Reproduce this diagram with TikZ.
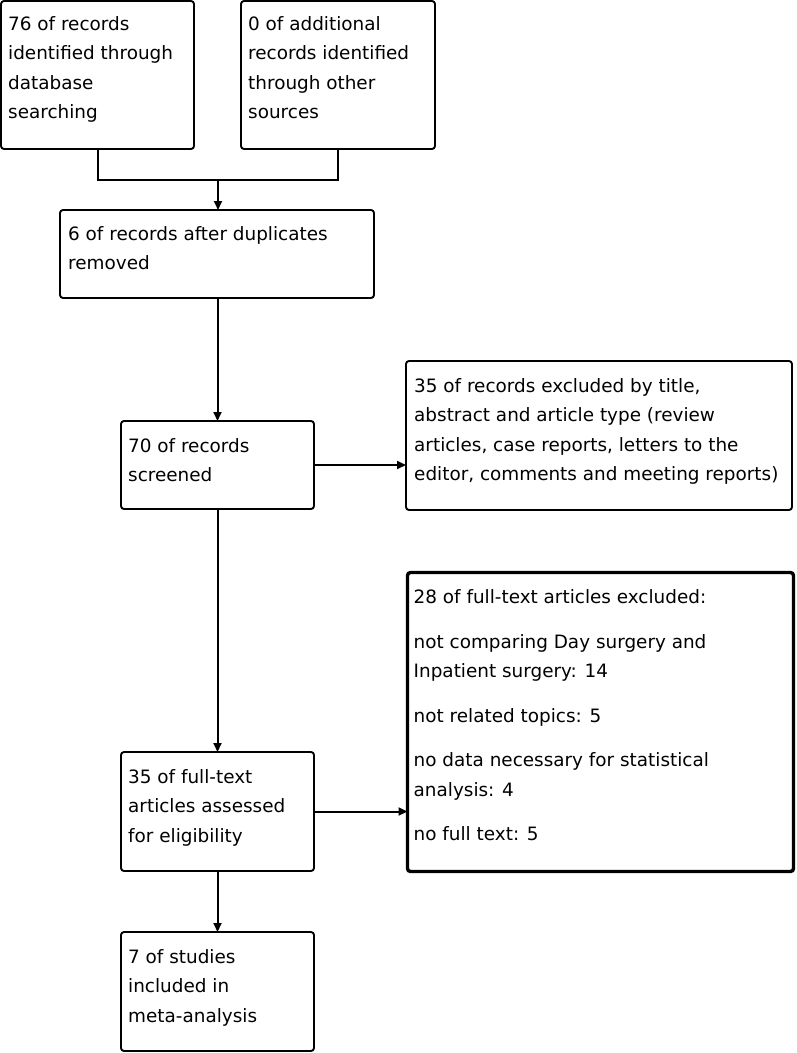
\documentclass[tikz,border=0pt]{standalone}
\usepackage{fontspec}
\setmainfont{DejaVu Sans}
\usetikzlibrary{arrows.meta,calc}
\begin{document}
\begin{tikzpicture}[x=1pt,y=-1pt,
  box/.style={draw, line width=1.9pt, rounded corners=3pt, inner sep=0pt, outer sep=0pt},
  thickbox/.style={box, line width=3.4pt},
  txt/.style={anchor=north west, align=left, inner sep=0pt, font=\fontsize{18.4}{29.5}\selectfont},
  conn/.style={line width=2pt},
  arr/.style={conn, -{Triangle[length=9pt,width=8pt]}}]
\useasboundingbox (0,0) rectangle (796,1053);
\fill[white] (0,0) rectangle (796,1053);

% boxes
\node[box, minimum width=193pt, minimum height=148pt] (A) at (97.5,75) {};
\node[box, minimum width=194pt, minimum height=148pt] (B) at (338,75) {};
\node[box, minimum width=314pt, minimum height=88pt] (C) at (217,254) {};
\node[box, minimum width=193pt, minimum height=88pt] (D) at (217.5,465) {};
\node[box, minimum width=386pt, minimum height=149pt] (E) at (599,435.5) {};
\node[box, minimum width=193pt, minimum height=119pt] (F) at (217.5,811.5) {};
\node[thickbox, minimum width=386pt, minimum height=299pt] (G) at (600.5,722) {};
\node[box, minimum width=193pt, minimum height=119pt] (H) at (217.5,991.5) {};

% texts (first line ascender ~14pt above its baseline)
\node[txt] (tA) at ($(A.north west)+(7,15)$) {76 of records\\identified through\\database\\searching};
\node[txt] (tB) at ($(B.north west)+(7,15)$) {0 of additional\\records identified\\through other\\sources};
\node[txt] (tC) at ($(C.north west)+(8,16)$) {6 of records after duplicates\\removed};
\node[txt] (tD) at ($(D.north west)+(7,17)$) {70 of records\\screened};
\node[txt] (tE) at ($(E.north west)+(8,17)$) {35 of records excluded by title,\\abstract and article type (review\\articles, case reports, letters to the\\editor, comments and meeting reports)};
\node[txt] (tF) at ($(F.north west)+(7,17)$) {35 of full-text\\articles assessed\\for eligibility};
\node[txt] (tG) at ($(G.north west)+(6,17)$) {28 of full-text articles excluded:\\[15pt]not comparing Day surgery and\\Inpatient surgery: 14\\[15pt]not related topics: 5\\[15pt]no data necessary for statistical\\analysis: 4\\[15pt]no full text: 5};
\node[txt] (tH) at ($(H.north west)+(7,17)$) {7 of studies\\included in\\meta-analysis};

% connectors
\coordinate (m) at (218,180);
\draw[conn] (A.south) |- (m) -| (B.south);
\draw[arr] (m) -- (m |- C.north);
\draw[arr] (D.north |- C.south) -- (D.north);
\draw[arr] (D.east) -- (D.east -| E.west);
\draw[arr] (D.south) -- (F.north);
\draw[arr] (F.east) -- (F.east -| G.west);
\draw[arr] (F.south) -- (H.north);
\end{tikzpicture}
\end{document}
